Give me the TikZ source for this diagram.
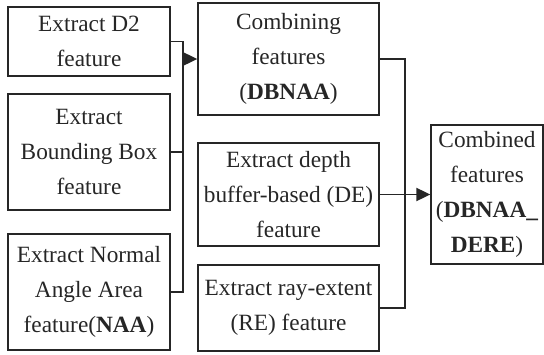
\documentclass[tikz,border=0pt]{standalone}
\usepackage{fontspec}
\setmainfont{Liberation Serif}
\usetikzlibrary{arrows.meta}

\begin{document}
\begin{tikzpicture} [x=1pt,y=-1pt,
  stage/.style= {shape=rectangle,draw=black!85,line width=1.3pt,inner sep=0,align=center,text=black!85,font=\fontsize{23.3}{35}\selectfont},
  link/.style= {draw=black!85,line width=1.9pt},
  tip/.style= {-{Triangle[length=14pt,width=13pt]}}]
  \useasboundingbox (0,0) rectangle (544,354);
  % Column 1
  {\node[stage][minimum width=162pt,minimum height=69pt] (d2) at (89,41.5) {Extract D2\\feature};}
  {\node[stage][minimum width=162pt,minimum height=116pt] (bb) at (89,152) {Extract\\Bounding Box\\feature};}
  {\node[stage][minimum width=162pt,minimum height=116pt] (naa) at (89,292) {Extract Normal\\Angle Area\\feature(\textbf{NAA})};}
  % Column 2
  {\node[stage][minimum width=181pt,minimum height=112pt] (dbnaa) at (288.5,59) {Combining\\features\\(\textbf{DBNAA})};}
  {\node[stage][minimum width=181pt,minimum height=103pt] (de) at (288.5,194.5) {Extract depth\\buffer-based (DE)\\feature};}
  {\node[stage][minimum width=181pt,minimum height=86pt] (re) at (288.5,308) {Extract ray-extent\\(RE) feature};}
  % Column 3
  {\node[stage][minimum width=112pt,minimum height=139pt] (all) at (487,194.5) {Combined\\features\\(\textbf{DBNAA\_}\\\textbf{DERE})};}
  % Joins
  \coordinate (j1) at (183,59);
  \coordinate (j2) at (405,194.5);
  %Column 1 to 2
  \draw[link] (d2.east) -| (j1);
  \draw[link] (naa.east) -| (j1);
  \draw[link] (bb.east) -- (bb.east -| j1);
  \draw[link,tip] (j1) -- (dbnaa.west);
  %Column 2 to 3
  \draw[link] (dbnaa.east) -| (j2);
  \draw[link] (re.east) -| (j2);
  \draw[link,tip] (de.east) -- (all.west);
\end{tikzpicture}
\end{document}
